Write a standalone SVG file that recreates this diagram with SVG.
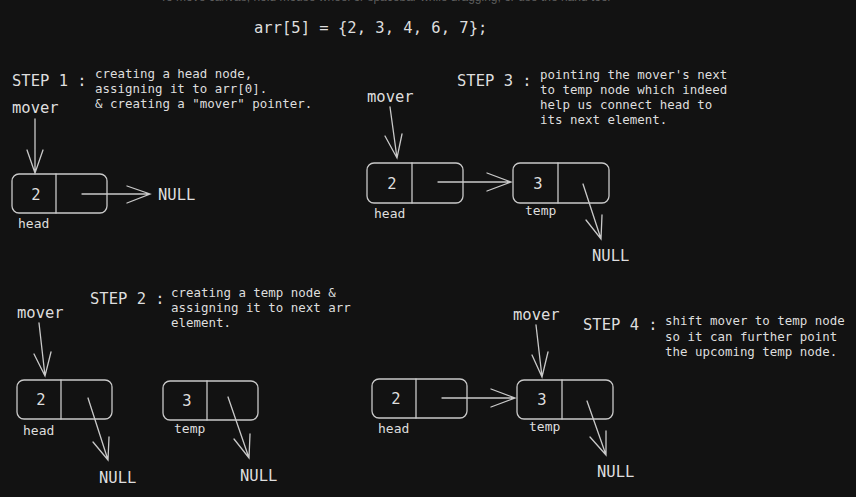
<svg xmlns="http://www.w3.org/2000/svg" width="856" height="497" viewBox="0 0 856 497">
<style>
.bg{fill:#121212}
.box{fill:none;stroke:#c9c9c9;stroke-width:1.3}
.ln{fill:none;stroke:#c9c9c9;stroke-width:1.3;stroke-linecap:round}
.t{font-family:"DejaVu Sans Mono","Liberation Mono",monospace;fill:#dedede}
.big{font-size:15.5px}
.desc{font-size:12.45px}
.lab{font-size:13px}
.num{font-size:15.5px;text-anchor:middle}
.hint{font-family:"Liberation Sans",Arial,sans-serif;font-size:12px;fill:#5e5e5e}
</style>
<rect class="bg" x="0" y="0" width="856" height="497"/>
<text class="hint" x="160" y="1">To move canvas, hold mouse wheel or spacebar while dragging, or use the hand tool</text>
<text class="t big" x="254" y="33">arr[5] = {2, 3, 4, 6, 7};</text>

<g id="step1">
<text class="t big" x="12" y="86">STEP 1 :</text>
<text class="t desc" x="95" y="78">creating a head node,</text>
<text class="t desc" x="95" y="93">assigning it to arr[0].</text>
<text class="t desc" x="95" y="108">&amp; creating a "mover" pointer.</text>
<text class="t big" x="12" y="113">mover</text>
</g>
<g id="s1-head">
<rect class="box" x="12" y="174" width="95" height="39" rx="7"/>
<line class="ln" x1="56" y1="174" x2="56" y2="213"/>
<text class="t num" x="36" y="199.5">2</text>
<text class="t lab" x="18" y="228">head</text>
</g>
<text class="t big" x="158" y="200">NULL</text>

<g id="step3">
<text class="t big" x="457" y="86">STEP 3 :</text>
<text class="t desc" x="540" y="79">pointing the mover's next</text>
<text class="t desc" x="540" y="94">to temp node which indeed</text>
<text class="t desc" x="540" y="109">help us connect head to</text>
<text class="t desc" x="540" y="124">its next element.</text>
<text class="t big" x="367" y="102">mover</text>
</g>
<g id="s3-head">
<rect class="box" x="367" y="163" width="96" height="40" rx="7"/>
<line class="ln" x1="412" y1="163" x2="412" y2="203"/>
<text class="t num" x="392" y="188.5">2</text>
<text class="t lab" x="374" y="218">head</text>
</g>
<g id="s3-temp">
<rect class="box" x="513" y="163" width="96" height="40" rx="7"/>
<line class="ln" x1="558" y1="163" x2="558" y2="203"/>
<text class="t num" x="538" y="188.5">3</text>
<text class="t lab" x="525" y="215">temp</text>
</g>
<text class="t big" x="592" y="261">NULL</text>

<g id="step2">
<text class="t big" x="90" y="304">STEP 2 :</text>
<text class="t desc" x="171" y="297">creating a temp node &amp;</text>
<text class="t desc" x="171" y="312">assigning it to next arr</text>
<text class="t desc" x="171" y="327">element.</text>
<text class="t big" x="17" y="318">mover</text>
</g>
<g id="s2-head">
<rect class="box" x="17" y="380" width="95" height="39" rx="7"/>
<line class="ln" x1="61" y1="380" x2="61" y2="419"/>
<text class="t num" x="41" y="405">2</text>
<text class="t lab" x="23" y="435">head</text>
</g>
<g id="s2-temp">
<rect class="box" x="163" y="381" width="95" height="39" rx="7"/>
<line class="ln" x1="207" y1="381" x2="207" y2="420"/>
<text class="t num" x="187" y="406">3</text>
<text class="t lab" x="174" y="433">temp</text>
</g>
<text class="t big" x="99" y="483">NULL</text>
<text class="t big" x="240" y="481">NULL</text>

<g id="step4">
<text class="t big" x="583" y="330">STEP 4 :</text>
<text class="t desc" x="665" y="325">shift mover to temp node</text>
<text class="t desc" x="665" y="341">so it can further point</text>
<text class="t desc" x="665" y="356">the upcoming temp node.</text>
<text class="t big" x="513" y="320">mover</text>
</g>
<g id="s4-head">
<rect class="box" x="372" y="379" width="95" height="39" rx="7"/>
<line class="ln" x1="416" y1="379" x2="416" y2="418"/>
<text class="t num" x="396" y="404">2</text>
<text class="t lab" x="378" y="433">head</text>
</g>
<g id="s4-temp">
<rect class="box" x="517" y="380" width="96" height="39" rx="7"/>
<line class="ln" x1="562" y1="380" x2="562" y2="419"/>
<text class="t num" x="542" y="405">3</text>
<text class="t lab" x="529" y="431">temp</text>
</g>
<text class="t big" x="597" y="477">NULL</text>

<g id="connectors">
<path class="ln" d="M35 119 L35 173 M27 150 L35 173 L43 150"/>
<path class="ln" d="M82 194 L150 194 M127 186 L150 194 L127 203"/>
<path class="ln" d="M390 107 L397 158 M385 136 L397 158 L402 134"/>
<path class="ln" d="M438 182 L511 182 M487 173 L511 182 L487 191"/>
<path class="ln" d="M583 184 L601 239 M586 220 L601 239 L602 215"/>
<path class="ln" d="M39 323 L45 376 M34 354 L45 376 L51 352"/>
<path class="ln" d="M88 398 L108 460 M93 442 L108 460 L109 437"/>
<path class="ln" d="M228 397 L249 458 M234 439 L249 458 L250 434"/>
<path class="ln" d="M536 325 L542 377 M532 355 L542 377 L548 352"/>
<path class="ln" d="M442 398 L515 398 M491 389 L515 398 L491 407"/>
<path class="ln" d="M587 401 L606 455 M590 437 L606 455 L606 431"/>
</g>
</svg>
